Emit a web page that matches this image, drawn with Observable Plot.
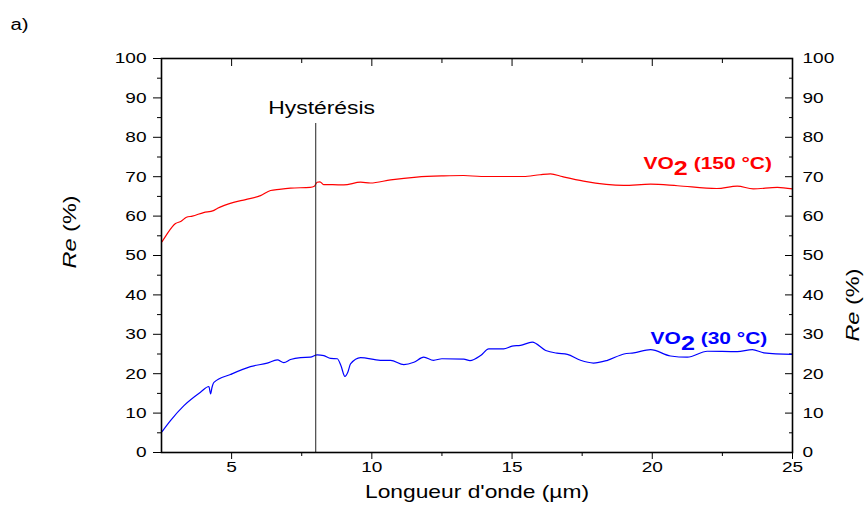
<!DOCTYPE html>
<html><head><meta charset="utf-8">
<script src="https://cdn.jsdelivr.net/npm/d3@7"></script>
<script src="https://cdn.jsdelivr.net/npm/@observablehq/plot@0.6"></script>
<style>
body{margin:0;background:#fff;font-family:"Liberation Sans",Arial,sans-serif;}
#wrap{width:866px;height:515px;}
</style></head><body><div id="wrap"></div>
<script>
// VO2 at 150 °C (red)
const hotX = [2.52,2.7,3.0,3.2,3.39,3.6,4.0,4.35,4.5,5.07,5.5,6.03,6.39,6.7,7.1,7.8,7.95,8.05,8.15,8.28,8.6,9.0,9.6,9.95,10.67,11.6,12.56,13.27,13.9,15.4,16.0,16.37,16.8,17.55,18.98,19.94,20.9,22.3,23.03,23.6,24.46,25.0];
const hotY = [53.5,55.5,58.1,58.7,59.7,60.0,60.9,61.4,62.0,63.5,64.2,65.2,66.5,66.8,67.1,67.3,67.6,68.6,68.7,68.0,68.0,67.9,68.6,68.4,69.2,69.9,70.2,70.3,70.05,70.05,70.5,70.7,70.0,68.9,67.8,68.1,67.7,67.0,67.6,66.9,67.3,66.9];
// VO2 at 30 °C (blue)
const coldX = [2.52,2.82,3.3,3.89,4.19,4.25,4.3,4.37,4.96,5.67,6.27,6.63,6.86,7.1,7.46,7.81,8.05,8.29,8.53,8.77,8.9,9.04,9.15,9.24,9.6,10.3,10.67,11.14,11.5,11.85,12.2,12.5,13.28,13.5,13.88,14.17,14.7,15.0,15.3,15.72,16.2,16.6,16.97,17.44,17.9,18.4,18.99,19.34,19.94,20.65,21.25,21.96,23.03,23.57,23.98,25.0];
const coldY = [5.3,8.1,11.9,15.3,16.75,14.9,16.5,17.8,19.8,21.8,22.7,23.5,22.8,23.6,24.1,24.2,24.8,24.6,23.9,23.8,22.0,19.3,20.5,22.5,24.1,23.4,23.4,22.3,22.9,24.2,23.4,23.8,23.7,23.3,24.6,26.3,26.3,27.0,27.2,28.0,25.9,25.2,24.9,23.4,22.7,23.4,25.0,25.3,26.1,24.5,24.2,25.7,25.6,26.1,25.3,24.9];

const yTicks = [0,10,20,30,40,50,60,70,80,90,100];
const yMinor = [5,15,25,35,45,55,65,75,85,95];
const xTicks = [5,10,15,20,25];
const xMinor = [7.5,12.5,17.5,22.5];
const hysteresisX = 8;
const hysteresisTop = 83.5;

const hot = hotX.map((x,i)=>({x, y: hotY[i]}));
const cold = coldX.map((x,i)=>({x, y: coldY[i]}));
const blank = () => "";

const plot = Plot.plot({
  width: 866, height: 515,
  marginLeft: 161, marginRight: 74, marginTop: 58, marginBottom: 63,
  style: {fontFamily: '"Liberation Sans", Arial, sans-serif', fontSize: "15px", color: "black", background: "white"},
  x: {domain: [2.5, 25]},
  y: {domain: [0, 100]},
  marks: [
    Plot.axisY(yTicks, {anchor: "left", tickSize: 8, tickPadding: 7, label: null, fontSize: 15}),
    Plot.axisY(yMinor, {anchor: "left", tickSize: 4, tickFormat: blank, label: null}),
    Plot.axisY(yTicks, {anchor: "right", tickSize: -8, tickPadding: 18, label: null, fontSize: 15}),
    Plot.axisY(yMinor, {anchor: "right", tickSize: -4, tickFormat: blank, label: null}),
    Plot.axisX(xTicks, {anchor: "bottom", tickSize: 7, tickPadding: 2, label: null, fontSize: 15}),
    Plot.axisX(xMinor, {anchor: "bottom", tickSize: 4, tickFormat: blank, label: null}),
    Plot.axisX(xTicks, {anchor: "top", tickSize: -7, tickFormat: blank, label: null}),
    Plot.axisX(xMinor, {anchor: "top", tickSize: -4, tickFormat: blank, label: null}),
    Plot.line(hot, {x: "x", y: "y", stroke: "#ff0000", strokeWidth: 1.2, curve: "monotone-x"}),
    Plot.line(cold, {x: "x", y: "y", stroke: "#0000ff", strokeWidth: 1.2, curve: "monotone-x"}),
    Plot.ruleX([hysteresisX], {y1: 0, y2: hysteresisTop, stroke: "#222", strokeWidth: 1}),
    Plot.text(["Hystérésis"], {x: 8.21, y: 87.3, fontSize: 18, fill: "black"}),
    Plot.text(["VO2 (150 °C)"], {x: 19.69, y: 73.2, textAnchor: "start", fontSize: 16.5, fontWeight: "bold", fill: "#ff0000"}),
    Plot.text(["VO2 (30 °C)"], {x: 19.94, y: 29.0, textAnchor: "start", fontSize: 16.5, fontWeight: "bold", fill: "#0000ff"}),
    Plot.text(["Longueur d'onde (µm)"], {frameAnchor: "bottom", dy: 45, fontSize: 19, fill: "black"}),
    Plot.text(["Re (%)"], {frameAnchor: "left", dx: -91, dy: 13, rotate: -90, fontSize: 18.5, fill: "black"}),
    Plot.text(["Re (%)"], {frameAnchor: "right", dx: 61, dy: 13, rotate: -90, fontSize: 18.5, fill: "black"}),
    Plot.text(["a)"], {frameAnchor: "top-left", dx: -151, dy: -40, textAnchor: "start", fontSize: 16, fill: "black"}),
    Plot.frame({stroke: "black", strokeWidth: 1.6})
  ]
});
document.getElementById("wrap").append(plot);

// rich text: italic "Re", subscript "2"
plot.querySelectorAll("text").forEach(t => {
  const s = t.textContent;
  if (s === "Re (%)") {
    t.innerHTML = '<tspan font-style="italic">Re</tspan> (%)';
  } else if (s.startsWith("VO2")) {
    const rest = s.slice(3);
    t.innerHTML = 'VO<tspan dy="6" font-size="1.2em">2</tspan><tspan dy="-6">' + rest + '</tspan>';
  }
});
// reference glyphs are horizontally wider: stretch the text
plot.querySelectorAll("text").forEach(t => {
  const len = t.getComputedTextLength();
  if (len > 0) {
    const f = t.textContent === "Longueur d'onde (µm)" ? 1.2 : 1.27;
    t.setAttribute("textLength", (len * f).toFixed(1));
    t.setAttribute("lengthAdjust", "spacingAndGlyphs");
  }
});
</script></body></html>
